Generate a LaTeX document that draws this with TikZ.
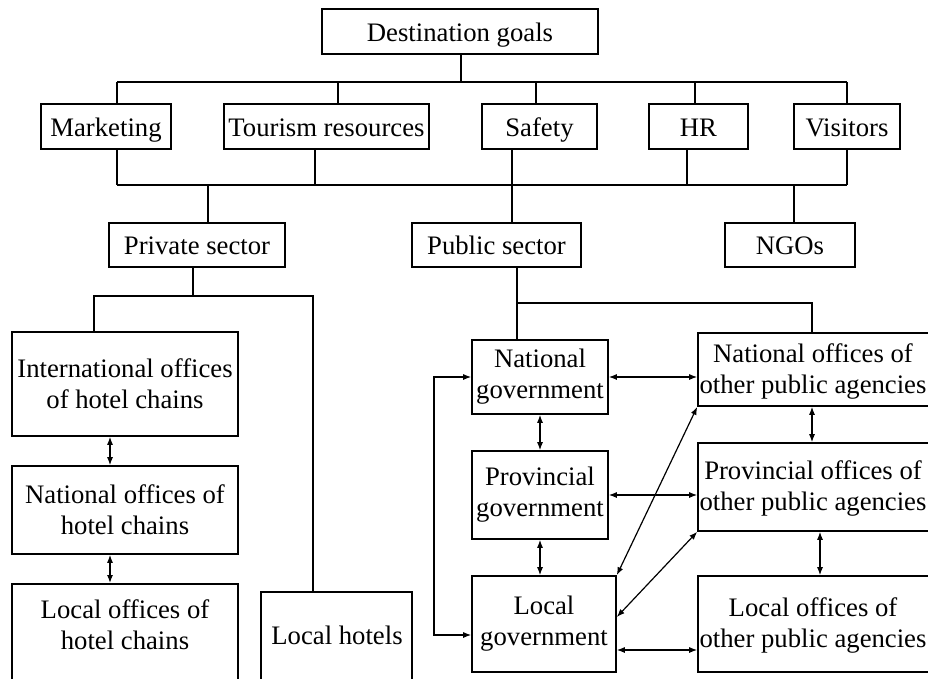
\documentclass[tikz,border=0pt]{standalone}
\usepackage{fontspec}
\setmainfont{Liberation Serif}
\usetikzlibrary{arrows.meta,calc}

\tikzset{
  box/.style={draw, line width=1.6pt, inner sep=0pt, align=center,
    font=\fontsize{26.7}{31}\selectfont},
  oneline/.style={text height=21.5pt, text depth=2.5pt},
  txt/.style={inner sep=0pt, align=center, font=\fontsize{26.7}{31}\selectfont},
  link/.style={line width=1.2pt},
  twoway/.style={line width=1.2pt, {Latex[length=8pt,width=6pt]}-{Latex[length=8pt,width=6pt]}},
}

\begin{document}
\begin{tikzpicture}[x=1pt,y=-1pt]
\useasboundingbox (0,0) rectangle (928,678);
\clip (0,0) rectangle (928,678);

% --- goals and sectors ---
\node[box, oneline, minimum width=276, minimum height=45] (goal) at (460,31.5) {Destination goals};

\node[box, oneline, minimum width=130, minimum height=45] (mkt)  at (106,126.5)   {Marketing};
\node[box, oneline, minimum width=205, minimum height=45] (tour) at (326.5,126.5) {Tourism resources};
\node[box, oneline, minimum width=115, minimum height=45] (safe) at (539.5,126.5) {Safety};
\node[box, oneline, minimum width=99,  minimum height=45] (hr)   at (698.5,126.5) {HR};
\node[box, oneline, minimum width=106, minimum height=45] (vis)  at (847,126.5)   {Visitors};

\node[box, oneline, minimum width=176, minimum height=44] (priv) at (197,245)   {Private sector};
\node[box, oneline, minimum width=169, minimum height=44] (pub)  at (496.5,245) {Public sector};
\node[box, oneline, minimum width=130, minimum height=44] (ngo)  at (790,245)   {NGOs};

% --- private sector branch ---
\node[box, minimum width=226, minimum height=104] (ihc) at (125,384) {International offices\\of hotel chains};
\node[box, minimum width=226, minimum height=88]  (nhc) at (125,510) {National offices of\\hotel chains};
\node[box, minimum width=226, minimum height=140, anchor=north] (lhc) at (125,583) {};
\node[txt] (lhct) at (125,625) {Local offices of\\hotel chains};
\node[box, minimum width=151, minimum height=140, anchor=north] (lh) at (336.5,591) {};
\node[txt, oneline] (lht) at (337,635) {Local hotels};

% --- public sector branch ---
\node[box, minimum width=136, minimum height=74] (ng) at (540,377) {National\\government};
\node[box, minimum width=136, minimum height=88] (pg) at (540,495) {Provincial\\government};
\node[box, minimum width=144, minimum height=96] (lg) at (544,624) {Local\\government};

% agency boxes run past the right edge of the page
\node[box, minimum width=237, minimum height=73] (no) at (816.5,369.5) {};
\node[box, minimum width=237, minimum height=88] (po) at (816.5,487)   {};
\node[box, minimum width=237, minimum height=96] (lo) at (816.5,624)   {};
\node[txt] (not) at (813,371) {National offices of\\other public agencies};
\node[txt] (pot) at (813,488) {Provincial offices of\\other public agencies};
\node[txt] (lot) at (813,625) {Local offices of\\other public agencies};

% --- tree from goals to the five areas ---
\coordinate (tb) at (461,82);
\draw[link] (goal.south -| tb) -- (tb);
\coordinate (t1) at (117,82);
\coordinate (t2) at (338,82);
\coordinate (t3) at (536,82);
\coordinate (t4) at (695,82);
\coordinate (t5) at (847,82);
\draw[link] (t1) -- (t5);
\draw[link] (t1) -- (t1 |- mkt.north);
\draw[link] (t2) -- (t2 |- tour.north);
\draw[link] (t3) -- (t3 |- safe.north);
\draw[link] (t4) -- (t4 |- hr.north);
\draw[link] (t5) -- (t5 |- vis.north);

% --- areas joined to the sectors ---
\coordinate (u1) at (117,185);
\coordinate (u2) at (315,185);
\coordinate (u3) at (512,185);
\coordinate (u4) at (687,185);
\coordinate (u5) at (847,185);
\coordinate (u6) at (208,185);
\coordinate (u7) at (794,185);
\draw[link] (u1) -- (u5);
\draw[link] (mkt.south -| u1) -- (u1);
\draw[link] (tour.south -| u2) -- (u2);
\draw[link] (safe.south -| u3) -- (pub.north -| u3);
\draw[link] (hr.south -| u4) -- (u4);
\draw[link] (vis.south -| u5) -- (u5);
\draw[link] (u6) -- (priv.north -| u6);
\draw[link] (u7) -- (ngo.north -| u7);

% --- private sector split ---
\coordinate (p0) at (193,296);
\coordinate (p1) at (94,296);
\coordinate (p2) at (313,296);
\draw[link] (priv.south -| p0) -- (p0);
\draw[link] (ihc.north -| p1) -- (p1) -- (p2) -- (lh.north -| p2);

% --- public sector split ---
\coordinate (q0) at (517,303);
\coordinate (q1) at (812,303);
\draw[link] (pub.south -| q0) -- (ng.north -| q0);
\draw[link] (q0) -- (q1) -- (no.north -| q1);

% --- two-way links, hotel chains ---
\coordinate (h) at (110,0);
\draw[twoway] (ihc.south -| h) -- (nhc.north -| h);
\draw[twoway] (nhc.south -| h) -- (lhc.north -| h);

% --- two-way links, government levels ---
\draw[twoway] (ng.south) -- (pg.north);
\draw[twoway] (pg.south) -- (pg.south |- lg.north);
\coordinate (a1) at (812,0);
\coordinate (a2) at (820,0);
\draw[twoway] (no.south -| a1) -- (po.north -| a1);
\draw[twoway] (po.south -| a2) -- (lo.north -| a2);

\draw[twoway] (ng.east) -- (ng.east -| no.west);
\draw[twoway] (pg.east |- 0,495) -- (po.west |- 0,495);
\draw[twoway] (lg.east |- 0,650) -- (lo.west |- 0,650);
\draw[twoway] (lg.north east) -- (no.south west);
\draw[twoway] (lg.east |- 0,617) -- (po.south west);

% --- national and local government joined on the left ---
\coordinate (lp) at (434,0);
\draw[twoway] (ng.west) -- (ng.west -| lp) -- (lp |- 0,635) -- (lg.west |- 0,635);
\end{tikzpicture}
\end{document}
